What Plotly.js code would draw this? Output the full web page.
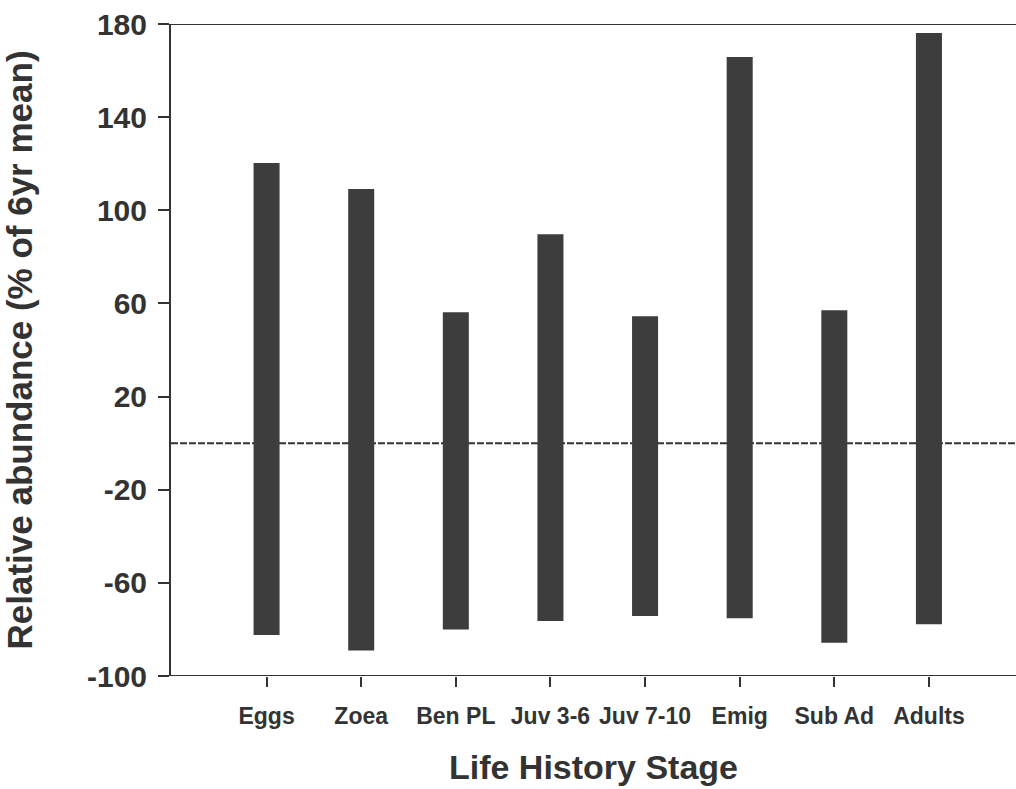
<!DOCTYPE html>
<html>
<head>
<meta charset="utf-8">
<script src="https://cdn.plot.ly/plotly-3.0.1.min.js"></script>
<style>html,body{margin:0;padding:0;background:#fff;}#chart{width:1016px;height:789px;}</style>
</head>
<body>
<div id="chart"></div>
<script>
const stages = ["Eggs", "Zoea", "Ben PL", "Juv 3-6", "Juv 7-10", "Emig", "Sub Ad", "Adults"];
const minValues = [-82.4, -89.1, -80.0, -76.4, -74.2, -75.2, -85.7, -77.8];
const maxValues = [120.3, 109.1, 56.2, 89.7, 54.5, 165.8, 57.1, 176.1];
const yTicks = [-100, -60, -20, 20, 60, 100, 140, 180];

const ink = "#333333";
const trace = {
  type: "bar",
  x: stages,
  base: minValues,
  y: maxValues.map((v, i) => v - minValues[i]),
  width: 0.275,
  marker: { color: "#3d3d3d", line: { width: 0 } },
  hoverinfo: "skip"
};

const layout = {
  width: 1016,
  height: 789,
  margin: { l: 171, r: 0, t: 23.5, b: 113 },
  paper_bgcolor: "#ffffff",
  plot_bgcolor: "#ffffff",
  showlegend: false,
  font: { family: "Liberation Sans, Arial, sans-serif", color: ink },
  xaxis: {
    type: "category",
    range: [-1.01, 7.92],
    showgrid: false,
    zeroline: false,
    showline: false,
    ticks: "outside",
    ticklen: 10,
    tickwidth: 2,
    tickcolor: ink,
    tickfont: { size: 23, family: "Liberation Sans, Arial, sans-serif", color: ink, weight: "bold" },
    ticklabelstandoff: 9,
    title: { text: "<b>Life History Stage</b>", font: { size: 34, color: ink }, standoff: 27 }
  },
  yaxis: {
    range: [-100, 180],
    tickvals: yTicks,
    ticktext: yTicks.map(String),
    showgrid: false,
    zeroline: false,
    showline: true,
    linewidth: 2,
    linecolor: ink,
    ticks: "outside",
    ticklen: 11,
    tickwidth: 2,
    tickcolor: ink,
    tickfont: { size: 30, family: "Liberation Sans, Arial, sans-serif", color: ink, weight: "bold" },
    ticklabelstandoff: 5,
    title: { text: "<b>Relative abundance (% of 6yr mean)</b>", font: { size: 35, color: ink }, standoff: 46 }
  },
  shapes: [
    { type: "line", xref: "paper", yref: "y", x0: 0, x1: 1, y0: 0, y1: 0,
      line: { color: ink, width: 2, dash: "7px,2px" }, layer: "below" },
    { type: "line", xref: "paper", yref: "y", x0: -0.015, x1: 1, y0: -100, y1: -100,
      line: { color: ink, width: 2 } },
    { type: "line", xref: "paper", yref: "y", x0: -0.013, x1: 1, y0: 180, y1: 180,
      line: { color: ink, width: 2 } }
  ]
};

Plotly.newPlot("chart", [trace], layout, { staticPlot: true, displayModeBar: false });
</script>
</body>
</html>
